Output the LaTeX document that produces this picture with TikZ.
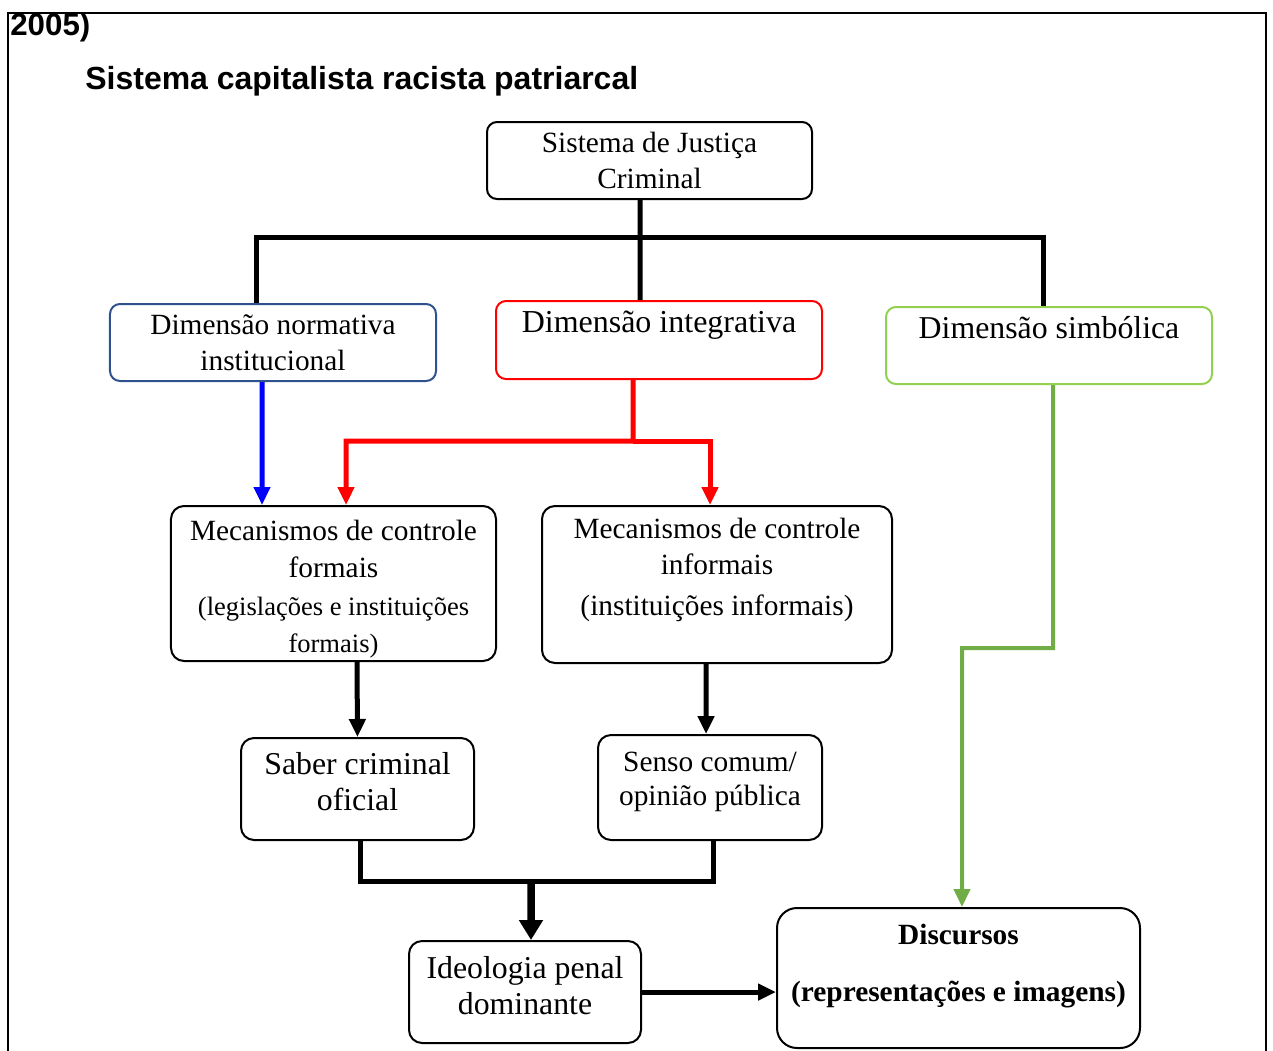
\documentclass[tikz,border=0pt]{standalone}
\usepackage{fontspec}
\setmainfont{Liberation Serif}
\setsansfont{Liberation Sans}
\usetikzlibrary{arrows.meta,calc,positioning}
\definecolor{normblue}{RGB}{47,82,143}
\definecolor{symbgreen}{RGB}{146,208,80}
\definecolor{arrowgreen}{RGB}{112,173,71}
\newcommand{\smalltext}{\fontsize{15.1}{17}\selectfont}
\tikzset{block/.style={rectangle,draw=black,line width=0.4mm,rounded corners=2.6mm,
align=center,inner sep=2pt,font=\fontsize{16.7}{20.5}\selectfont},
dimblock/.style={block,rounded corners=2mm},
bigblock/.style={block,font=\fontsize{18.1}{20.5}\selectfont},
wire/.style={line width=1mm},
>={Triangle[length=3.6mm,width=3.2mm]}}

\begin{document}
\begin{tikzpicture}[x=0.2mm,y=-0.2mm]
  \useasboundingbox (0,0) rectangle (1273,1050);
  \draw [line width=0.4mm] (8,1070) -- (8,13) -- (1266,13) -- (1266,1070);
  \node (year) [anchor=west,inner sep=0pt,font=\sffamily\bfseries\fontsize{17.8}{20}\selectfont] at (10,27) {2005)};
  \node (title) [anchor=west,inner sep=0pt,font=\sffamily\bfseries\fontsize{18.2}{20}\selectfont] at (85,81) {Sistema capitalista racista patriarcal};

  \node (sjc) [dimblock,minimum width=65mm,minimum height=15.4mm] at (649.5,160.5) {Sistema de Justiça\\Criminal};
  \node (dni) [dimblock,draw=normblue,minimum width=65.2mm,minimum height=15.4mm] at (273,342.5) {Dimensão normativa\\institucional};
  \node (di) [dimblock,draw=red,font=\fontsize{18.2}{20.5}\selectfont,minimum width=65.2mm,minimum height=15.6mm] at (659,340) {Dimensão integrativa\\ \mbox{}};
  \node (ds) [dimblock,draw=symbgreen,font=\fontsize{18.1}{20.5}\selectfont,minimum width=65.2mm,minimum height=15.4mm] at (1049,345.5) {Dimensão simbólica\\ \mbox{}};

  \node (mcf) [block,inner sep=0pt,font=\fontsize{16.7}{21.2}\selectfont,minimum width=65mm,minimum height=31mm] at (333.5,583.5) {\rule{0pt}{18pt}Mecanismos de controle\\formais\\{\smalltext(legislações e instituições}\\{\smalltext formais)}};
  \node (mci) [block,minimum width=70mm,minimum height=31.4mm] at (717,584.5) {Mecanismos de controle\\informais\\[3pt](instituições informais)\\ \mbox{}};

  \node (sco) [bigblock,minimum width=46.6mm,minimum height=20.4mm] at (357.5,789) {Saber criminal\\oficial\\[-12pt]\mbox{}};
  \node (scp) [block,font=\fontsize{16.7}{19.4}\selectfont,minimum width=44.8mm,minimum height=21mm] at (710,787.5) {Senso comum/\\opinião pública\\[-9pt]\mbox{}};
  \node (ipd) [bigblock,minimum width=46.4mm,minimum height=20.4mm] at (525,992) {Ideologia penal\\dominante\\[-13pt]\mbox{}};
  \node (dis) [block,rounded corners=4mm,font=\bfseries\fontsize{16.7}{20.5}\selectfont,minimum width=72.6mm,minimum height=28mm] at (958.5,978) {\rule{0pt}{15pt}Discursos\\[12pt](representações e imagens)\\ \mbox{}};

  \coordinate (hub) at (640,237);
  \coordinate (rsplit) at (633,441);
  \coordinate (gbend) at (962,648);
  \coordinate (merge) at (531,881);

  \draw [wire] ([xshift=-1.9mm]sjc.south) -- ([xshift=-3.8mm]di.north);
  \draw [wire] ([xshift=-3.4mm]dni.north) |- (hub) -| ([xshift=-1.2mm]ds.north);

  \draw [wire,->,blue] ([xshift=-2.2mm]dni.south) -- ([xshift=-14.3mm]mcf.north);
  \draw [wire,->,red] ([xshift=-5.2mm]di.south) -- (rsplit) -| ([xshift=2.5mm]mcf.north);
  \draw [wire,->,red] (rsplit) -| ([xshift=-1.4mm]mci.north);
  \draw [wire,->,arrowgreen,line width=0.8mm] ([xshift=0.8mm]ds.south) |- (gbend) -- ([xshift=0.7mm]dis.north);

  \draw [wire,->] ([xshift=4.7mm]mcf.south) -- (sco.north);
  \draw [wire,->] ([xshift=-2.2mm]mci.south) -- ([xshift=-0.8mm]scp.north);
  \draw [wire] ([xshift=0.5mm]sco.south) |- (merge) -| ([xshift=0.6mm]scp.south);
  \draw [line width=1.5mm,-{Triangle[length=4mm,width=4.6mm]}] (merge) -- ([xshift=1.2mm]ipd.north);
  \draw [wire,->] (ipd.east) -- (ipd.east -| dis.west);
\end{tikzpicture}
\end{document}
